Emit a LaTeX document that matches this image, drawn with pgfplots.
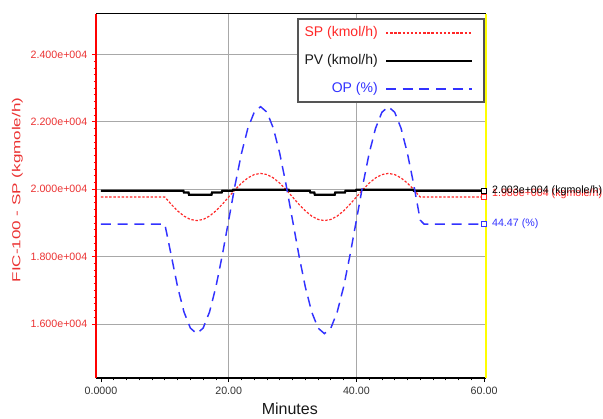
\documentclass[border=0pt]{standalone}
\usepackage{fontspec}
\setmainfont{Liberation Sans}
\usepackage{graphicx}
\usepackage{pgfplots}
\pgfplotsset{compat=1.18}
\definecolor{spred}{RGB}{255,40,40}
\definecolor{axred}{RGB}{255,0,0}
\definecolor{lblred}{RGB}{235,50,50}
\definecolor{opblue}{RGB}{50,50,255}
\definecolor{gridgray}{RGB}{168,168,168}
\definecolor{legborder}{RGB}{85,85,85}
\definecolor{yel}{RGB}{255,255,0}
\tikzset{
  spstyle/.style={draw=spred, line width=0.9pt, dash pattern=on 1.8pt off 1.3pt},
  pvstyle/.style={draw=black, line width=1.7pt, solid},
  opstyle/.style={draw=opblue, line width=1.1pt, dash pattern=on 7.5pt off 5pt},
}
\begin{document}
\begin{tikzpicture}
\begin{axis}[
  scale only axis, width=292.5pt, height=273pt,
  xmin=-0.78, xmax=60.3, ymin=14400, ymax=25200,
  scaled y ticks=false, scaled x ticks=false,
  axis line style={draw=none},
  clip=false,
  xtick={0,20,40,60}, xticklabels={0.0000,20.00,40.00,60.00},
  minor x tick num=9,
  ytick={16000,18000,20000,22000,24000},
  yticklabels={1.600e+004,1.800e+004,2.000e+004,2.200e+004,2.400e+004},
  minor y tick num=9,
  tick align=outside, xtick pos=left, ytick pos=left,
  x tick style={black, line width=0.6pt},
  y tick style={axred, line width=0.6pt},
  major tick length=3pt, minor tick length=1.8pt,
  ymajorgrids, major grid style={gridgray, line width=0.75pt},
  extra x ticks={20,40}, extra x tick labels={},
  extra x tick style={grid=major, major tick length=0pt},
  xticklabel style={font=\fontsize{8}{9}\selectfont, text=black!80},
  yticklabel style={font=\fontsize{8}{9}\selectfont, text=lblred},
  xlabel={Minutes},
  xlabel style={at={(axis description cs:0.497,-0.1016)}, anchor=base, font=\fontsize{12}{14}\selectfont, text=black!90},
  ylabel={\scalebox{1.47}[1]{FIC-100 - SP (kgmole/h)}},
  ylabel style={at={(axis description cs:-0.2013,0.5165)}, anchor=center, font=\fontsize{8.7}{10}\selectfont, text=lblred},
]
% SP
\addplot[spstyle] coordinates {
(0,19770) (10,19770) (11,19554) (12,19359) (13,19204) (14,19104) (15,19070) (16,19104) (17,19204) (18,19359) (19,19554)
(20,19770) (21,19986) (22,20181) (23,20336) (24,20436) (25,20470) (26,20436) (27,20336) (28,20181) (29,19986)
(30,19770) (31,19554) (32,19359) (33,19204) (34,19104) (35,19070) (36,19104) (37,19204) (38,19359) (39,19554)
(40,19770) (41,19986) (42,20181) (43,20336) (44,20436) (45,20470) (46,20436) (47,20336) (48,20181) (49,19986)
(50,19770) (60,19770)};
% PV
\addplot[pvstyle] coordinates {
(0,19955) (12.9,19955) (13.0,19905) (13.7,19905) (13.8,19837) (17.3,19837) (17.4,19905) (18.9,19905) (19.0,19955)
(20.6,19955) (20.7,19985) (29.4,19985) (29.5,19955) (32.7,19955) (32.8,19905) (33.4,19905) (33.5,19837) (36.6,19837)
(36.7,19905) (38.2,19905) (38.3,19955) (39.9,19955) (40.0,19985) (48.9,19985) (49.0,19955) (60,19955)};
% OP
\addplot[opstyle] coordinates {
(0,18966) (10,18966) (11,18043) (12,17104) (13,16359) (14,15881) (15,15716) (16,15881) (17,16359) (18,17104) (19,18043)
(20,19083) (21,20123) (22,21062) (23,21807) (24,22285) (25,22450) (26,22285) (27,21807) (28,21062) (29,20123)
(30,19083) (31,18043) (32,17104) (33,16359) (34,15881) (35,15716) (36,15881) (37,16359) (38,17104) (39,18043)
(40,19083) (41,20123) (42,21062) (43,21807) (44,22285) (45,22450) (46,22285) (47,21807) (48,21062) (49,20123)
(50,19083) (50.6,18966) (60,18966)};
% axis lines
\draw[black, line width=0.75pt] (rel axis cs:0,1) -- (rel axis cs:1,1);
\draw[black, line width=1.5pt] (rel axis cs:0,0) -- (rel axis cs:1,0);
\draw[axred, line width=0.9pt] (rel axis cs:0,0) -- (rel axis cs:0,1);
\draw[black!70, line width=2.2pt] (rel axis cs:1,0) -- (rel axis cs:1,1);
\draw[yel, line width=1.3pt] (rel axis cs:1,0) -- (rel axis cs:1,1);
% end markers
\addplot[only marks, mark=square*, mark size=1.8pt, black, mark options={line width=0.6pt, fill=white}] coordinates {(60,19955)};
\addplot[only marks, mark=square*, mark size=1.8pt, spred, mark options={line width=0.6pt, fill=white}] coordinates {(60,19770)};
\addplot[only marks, mark=square*, mark size=1.8pt, opblue, mark options={line width=0.6pt, fill=white}] coordinates {(60,18966)};
\node[anchor=west, xshift=2.5pt, font=\fontsize{8}{9}\selectfont, text=spred] at (axis cs:60,19881) {1.980e+004 (kgmole/h)};
\node[anchor=west, xshift=2.5pt, font=\fontsize{8}{9}\selectfont, text=black] at (axis cs:60,19970) {2.003e+004 (kgmole/h)};
\node[anchor=west, xshift=2.5pt, font=\fontsize{8}{9}\selectfont, text=opblue] at (axis cs:60,18966) {44.47 (\%)};
\end{axis}
% legend
\coordinate (NE) at (current axis.north east);
\draw[legborder, line width=1pt, fill=white] ([xshift=-141pt,yshift=-3.75pt]NE) rectangle ([xshift=-1.5pt,yshift=-66pt]NE);
\node[anchor=mid east, inner sep=0pt, font=\fontsize{10.5}{12}\selectfont, text=spred] at ([xshift=-81pt,yshift=-14.25pt]NE) {SP (kmol/h)};
\node[anchor=mid east, inner sep=0pt, font=\fontsize{10.5}{12}\selectfont, text=black!90] at ([xshift=-81pt,yshift=-35.25pt]NE) {PV (kmol/h)};
\node[anchor=mid east, inner sep=0pt, font=\fontsize{10.5}{12}\selectfont, text=opblue] at ([xshift=-81pt,yshift=-56.25pt]NE) {OP (\%)};
\draw[spstyle] ([xshift=-75pt,yshift=-14.25pt]NE) -- ([xshift=-10.5pt,yshift=-14.25pt]NE);
\draw[pvstyle] ([xshift=-75pt,yshift=-35.25pt]NE) -- ([xshift=-10.5pt,yshift=-35.25pt]NE);
\draw[opstyle] ([xshift=-75pt,yshift=-56.25pt]NE) -- ([xshift=-10.5pt,yshift=-56.25pt]NE);
\pgfresetboundingbox
\path[use as bounding box] ([xshift=-72pt,yshift=-30pt]current axis.south west) rectangle ([xshift=380.25pt,yshift=283.5pt]current axis.south west);
\end{tikzpicture}
\end{document}
